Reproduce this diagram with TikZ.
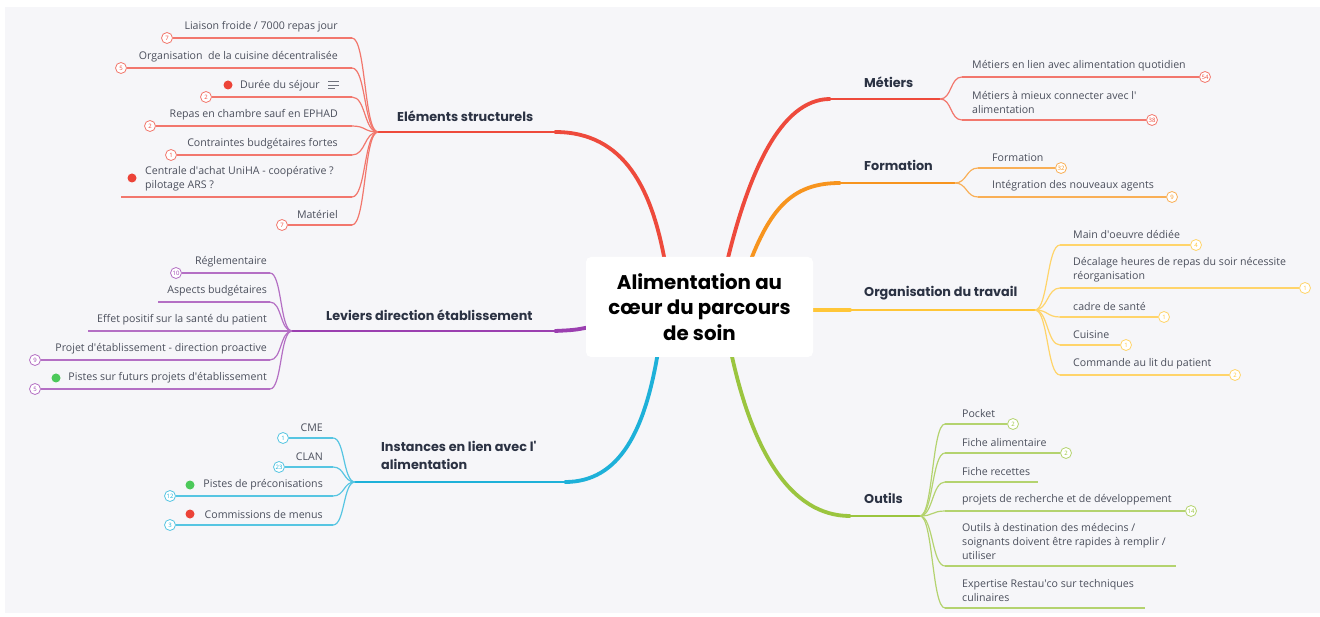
\documentclass[tikz,border=0pt]{standalone}
\usepackage{fontspec}
\setmainfont{Open Sans}
\newfontfamily\titlefont{Poppins}
\usetikzlibrary{positioning}

\definecolor{bggray}{HTML}{F6F6F9}
\definecolor{leafgray}{HTML}{4B4F5C}
\definecolor{titleink}{HTML}{2B3243}
\definecolor{cred}{HTML}{EE4A3C}
\definecolor{corange}{HTML}{F7941E}
\definecolor{cyellow}{HTML}{FFC638}
\definecolor{cgreen}{HTML}{9BC53F}
\definecolor{ccyan}{HTML}{1EB1D9}
\definecolor{cpurple}{HTML}{9B3FB0}
\definecolor{dotred}{HTML}{EC4338}
\definecolor{dotgreen}{HTML}{4CC95A}

\newcommand{\apos}{\textquotesingle}

\tikzset{
  leaf/.style={font=\fontsize{10.6}{14}\selectfont, text=leafgray, inner sep=0pt},
  topic/.style={font=\titlefont\bfseries\fontsize{12.8}{18}\selectfont, text=titleink, inner sep=0pt, align=left},
  badge/.style={circle, draw=#1!75!white, fill=white, line width=0.8pt, minimum size=11pt, inner sep=0pt,
    text=#1, font=\fontsize{6}{6}\selectfont},
  flag/.style={circle, fill=#1, minimum size=9pt, inner sep=0pt},
  trunk/.style={draw=#1, line width=3.8pt, line cap=round},
  stem/.style={draw=#1, line width=1.8pt},
  twig/.style={draw=#1!75!white, line width=1.2pt},
}

\begin{document}
\begin{tikzpicture}[x=1pt,y=-1pt]
\useasboundingbox (0,0) rectangle (1320,617);
\fill[white] (0,0) rectangle (1320,617);
\fill[bggray] (5,7) rectangle (1320,613);

% hubs and trunk ends
\coordinate (es-hub) at (378,132);
\coordinate (lv-hub) at (292,331);
\coordinate (in-hub) at (355,482);
\coordinate (mt-hub) at (940,99);
\coordinate (fo-hub) at (955,183);
\coordinate (ot-hub) at (1035,310);
\coordinate (ou-hub) at (920,516);

\coordinate (es-root) at (665,262);
\coordinate (lv-root) at (590,327);
\coordinate (in-root) at (658,352);
\coordinate (mt-root) at (727,262);
\coordinate (fo-root) at (750,262);
\coordinate (ot-root) at (808,310);
\coordinate (ou-root) at (731,352);

\coordinate (es-end) at (555,132);
\coordinate (lv-end) at (555,331);
\coordinate (in-end) at (565,482);
\coordinate (mt-end) at (830,99);
\coordinate (fo-end) at (840,183);
\coordinate (ot-end) at (850,310);
\coordinate (ou-end) at (850,516);

% main branches
\draw[trunk=cred] (es-root) .. controls (652,190) and (625,132) .. (es-end);
\draw[stem=cred] (es-end) -- (es-hub);
\draw[trunk=cpurple] (lv-root) .. controls (575,330) .. (lv-end);
\draw[stem=cpurple] (lv-end) -- (lv-hub);
\draw[trunk=ccyan] (in-root) .. controls (645,430) and (620,482) .. (in-end);
\draw[stem=ccyan] (in-end) -- (in-hub);
\draw[trunk=cred] (mt-root) .. controls (748,175) and (780,99) .. (mt-end);
\draw[stem=cred] (mt-end) -- (mt-hub);
\draw[trunk=corange] (fo-root) .. controls (772,205) and (795,183) .. (fo-end);
\draw[stem=corange] (fo-end) -- (fo-hub);
\draw[trunk=cyellow] (ot-root) -- (ot-end);
\draw[stem=cyellow] (ot-end) -- (ot-hub);
\draw[trunk=cgreen] (ou-root) .. controls (752,450) and (790,516) .. (ou-end);
\draw[stem=cgreen] (ou-end) -- (ou-hub);

% central topic
\node[fill=white, rounded corners=5pt, minimum width=227pt, minimum height=100pt, align=center,
  font=\titlefont\bfseries\fontsize{19.8}{25.5}\selectfont, text=black] (root) at (699.5,307)
  {Alimentation au\\cœur du parcours\\de soin};

% topics
\node[topic, anchor=west] (es) at (397,116) {Eléments structurels};
\node[topic, anchor=west] (lv) at (326,315) {Leviers direction établissement};
\node[topic, anchor=north west] (in) at (381,441) {Instances en lien avec l\apos\\alimentation};
\node[topic, anchor=west] (mt) at (864,82) {Métiers};
\node[topic, anchor=west] (fo) at (864,165) {Formation};
\node[topic, anchor=west] (ot) at (864,293) {Organisation du travail};
\node[topic, anchor=west] (ou) at (864,498) {Outils};

% Eléments structurels
\coordinate (es1k) at (352,38);
\coordinate (es2k) at (352,68);
\coordinate (es3k) at (352,97);
\coordinate (es4k) at (352,126);
\coordinate (es5k) at (352,155);
\coordinate (es6k) at (352,197);
\coordinate (es7k) at (352,225);
\coordinate (es6e) at (121,197);
\draw[twig=cred] (es-hub) .. controls +(-14,0) and +(14,0) .. (es1k);
\draw[twig=cred] (es-hub) .. controls +(-14,0) and +(14,0) .. (es2k);
\draw[twig=cred] (es-hub) .. controls +(-14,0) and +(14,0) .. (es3k);
\draw[twig=cred] (es-hub) .. controls +(-14,0) and +(14,0) .. (es4k);
\draw[twig=cred] (es-hub) .. controls +(-14,0) and +(14,0) .. (es5k);
\draw[twig=cred] (es-hub) .. controls +(-14,0) and +(14,0) .. (es6k);
\draw[twig=cred] (es-hub) .. controls +(-14,0) and +(14,0) .. (es7k);
\node[badge=cred] (es1b) at (167,38) {7};
\node[badge=cred] (es2b) at (121,68) {5};
\node[badge=cred] (es3b) at (206,97) {2};
\node[badge=cred] (es4b) at (150,126) {2};
\node[badge=cred] (es5b) at (171,155) {1};
\node[badge=cred] (es7b) at (282,225) {7};
\draw[twig=cred] (es1k) -- (es1b);
\draw[twig=cred] (es2k) -- (es2b);
\draw[twig=cred] (es3k) -- (es3b);
\draw[twig=cred] (es4k) -- (es4b);
\draw[twig=cred] (es5k) -- (es5b);
\draw[twig=cred] (es6k) -- (es6e);
\draw[twig=cred] (es7k) -- (es7b);
\node[leaf, anchor=south east] (es1) at (338,32) {Liaison froide / 7000 repas jour};
\node[leaf, anchor=south east] (es2) at (338,62) {Organisation\ \ de la cuisine décentralisée};
\node[leaf, anchor=south east] (es3) at (320,91) {Durée du séjour};
\node[flag=dotred] (es3f) at (228,85) {};
\draw[leafgray!80, line width=0.8pt] (328,81.5) -- (339,81.5) (328,85) -- (339,85) (328,88.5) -- (335,88.5);
\node[leaf, anchor=south east] (es4) at (338,120) {Repas en chambre sauf en EPHAD};
\node[leaf, anchor=south east] (es5) at (338,149) {Contraintes budgétaires fortes};
\node[leaf, anchor=south west, align=left] (es6) at (145,191) {Centrale d\apos achat UniHA - coopérative ?\\pilotage ARS ?};
\node[flag=dotred] (es6f) at (132,178) {};
\node[leaf, anchor=south east] (es7) at (338,219) {Matériel};

% Leviers direction établissement
\coordinate (lv1k) at (270,273);
\coordinate (lv2k) at (270,302);
\coordinate (lv3k) at (270,331);
\coordinate (lv4k) at (270,360);
\coordinate (lv5k) at (270,389);
\coordinate (lv2e) at (158,302);
\coordinate (lv3e) at (88,331);
\draw[twig=cpurple] (lv-hub) .. controls +(-12,0) and +(12,0) .. (lv1k);
\draw[twig=cpurple] (lv-hub) .. controls +(-12,0) and +(12,0) .. (lv2k);
\draw[twig=cpurple] (lv-hub) -- (lv3k);
\draw[twig=cpurple] (lv-hub) .. controls +(-12,0) and +(12,0) .. (lv4k);
\draw[twig=cpurple] (lv-hub) .. controls +(-12,0) and +(12,0) .. (lv5k);
\node[badge=cpurple] (lv1b) at (176,273) {10};
\node[badge=cpurple] (lv4b) at (35,360) {9};
\node[badge=cpurple] (lv5b) at (35,389) {5};
\draw[twig=cpurple] (lv1k) -- (lv1b);
\draw[twig=cpurple] (lv2k) -- (lv2e);
\draw[twig=cpurple] (lv3k) -- (lv3e);
\draw[twig=cpurple] (lv4k) -- (lv4b);
\draw[twig=cpurple] (lv5k) -- (lv5b);
\node[leaf, anchor=south east] (lv1) at (267,267) {Réglementaire};
\node[leaf, anchor=south east] (lv2) at (267,296) {Aspects budgétaires};
\node[leaf, anchor=south east] (lv3) at (267,325) {Effet positif sur la santé du patient};
\node[leaf, anchor=south east] (lv4) at (267,354) {Projet d\apos établissement - direction proactive};
\node[leaf, anchor=south east] (lv5) at (267,383) {Pistes sur futurs projets d\apos établissement};
\node[flag=dotgreen] (lv5f) at (56,378) {};

% Instances en lien avec l'alimentation
\coordinate (in1k) at (333,438);
\coordinate (in2k) at (333,467);
\coordinate (in3k) at (333,496);
\coordinate (in4k) at (333,525);
\draw[twig=ccyan] (in-hub) .. controls +(-12,0) and +(12,0) .. (in1k);
\draw[twig=ccyan] (in-hub) .. controls +(-12,0) and +(12,0) .. (in2k);
\draw[twig=ccyan] (in-hub) .. controls +(-12,0) and +(12,0) .. (in3k);
\draw[twig=ccyan] (in-hub) .. controls +(-12,0) and +(12,0) .. (in4k);
\node[badge=ccyan] (in1b) at (283,438) {1};
\node[badge=ccyan] (in2b) at (279,467) {23};
\node[badge=ccyan] (in3b) at (170,496) {12};
\node[badge=ccyan] (in4b) at (170,525) {3};
\draw[twig=ccyan] (in1k) -- (in1b);
\draw[twig=ccyan] (in2k) -- (in2b);
\draw[twig=ccyan] (in3k) -- (in3b);
\draw[twig=ccyan] (in4k) -- (in4b);
\node[leaf, anchor=south east] (in1) at (323,432) {CME};
\node[leaf, anchor=south east] (in2) at (323,461) {CLAN};
\node[leaf, anchor=south east] (in3) at (323,490) {Pistes de préconisations};
\node[flag=dotgreen] (in3f) at (190,485) {};
\node[leaf, anchor=south east] (in4) at (323,519) {Commissions de menus};
\node[flag=dotred] (in4f) at (190,514) {};

% Metiers
\coordinate (mt1k) at (962,77);
\coordinate (mt2k) at (962,120);
\draw[twig=cred] (mt-hub) .. controls +(12,0) and +(-12,0) .. (mt1k);
\draw[twig=cred] (mt-hub) .. controls +(12,0) and +(-12,0) .. (mt2k);
\node[badge=cred] (mt1b) at (1205,77) {54};
\node[badge=cred] (mt2b) at (1152,120) {38};
\draw[twig=cred] (mt1k) -- (mt1b);
\draw[twig=cred] (mt2k) -- (mt2b);
\node[leaf, anchor=south west] (mt1) at (972,71) {Métiers en lien avec alimentation quotidien};
\node[leaf, anchor=south west, align=left] (mt2) at (972,114) {Métiers à mieux connecter avec l\apos\\alimentation};

% Formation
\coordinate (fo1k) at (978,168);
\coordinate (fo2k) at (978,197);
\draw[twig=corange] (fo-hub) .. controls +(12,0) and +(-12,0) .. (fo1k);
\draw[twig=corange] (fo-hub) .. controls +(12,0) and +(-12,0) .. (fo2k);
\node[badge=corange] (fo1b) at (1061,168) {32};
\node[badge=corange] (fo2b) at (1172,197) {9};
\draw[twig=corange] (fo1k) -- (fo1b);
\draw[twig=corange] (fo2k) -- (fo2b);
\node[leaf, anchor=south west] (fo1) at (992,162) {Formation};
\node[leaf, anchor=south west] (fo2) at (992,191) {Intégration des nouveaux agents};

% Organisation du travail
\coordinate (ot1k) at (1060,245);
\coordinate (ot2k) at (1060,288);
\coordinate (ot3k) at (1060,317);
\coordinate (ot4k) at (1060,345);
\coordinate (ot5k) at (1060,375);
\draw[twig=cyellow] (ot-hub) .. controls +(13,0) and +(-13,0) .. (ot1k);
\draw[twig=cyellow] (ot-hub) .. controls +(13,0) and +(-13,0) .. (ot2k);
\draw[twig=cyellow] (ot-hub) .. controls +(13,0) and +(-13,0) .. (ot3k);
\draw[twig=cyellow] (ot-hub) .. controls +(13,0) and +(-13,0) .. (ot4k);
\draw[twig=cyellow] (ot-hub) .. controls +(13,0) and +(-13,0) .. (ot5k);
\node[badge=cyellow] (ot1b) at (1196,245) {4};
\node[badge=cyellow] (ot2b) at (1305,288) {1};
\node[badge=cyellow] (ot3b) at (1164,317) {1};
\node[badge=cyellow] (ot4b) at (1126,345) {1};
\node[badge=cyellow] (ot5b) at (1235,375) {2};
\draw[twig=cyellow] (ot1k) -- (ot1b);
\draw[twig=cyellow] (ot2k) -- (ot2b);
\draw[twig=cyellow] (ot3k) -- (ot3b);
\draw[twig=cyellow] (ot4k) -- (ot4b);
\draw[twig=cyellow] (ot5k) -- (ot5b);
\node[leaf, anchor=south west] (ot1) at (1073,239) {Main d\apos oeuvre dédiée};
\node[leaf, anchor=south west, align=left] (ot2) at (1073,282) {Décalage heures de repas du soir nécessite\\réorganisation};
\node[leaf, anchor=south west] (ot3) at (1073,311) {cadre de santé};
\node[leaf, anchor=south west] (ot4) at (1073,339) {Cuisine};
\node[leaf, anchor=south west] (ot5) at (1073,369) {Commande au lit du patient};

% Outils
\coordinate (ou1k) at (945,424);
\coordinate (ou2k) at (945,453);
\coordinate (ou3k) at (945,482);
\coordinate (ou4k) at (945,511);
\coordinate (ou5k) at (945,566);
\coordinate (ou6k) at (945,608);
\coordinate (ou3e) at (1038,482);
\coordinate (ou5e) at (1176,566);
\coordinate (ou6e) at (1145,608);
\draw[twig=cgreen] (ou-hub) .. controls +(13,0) and +(-13,0) .. (ou1k);
\draw[twig=cgreen] (ou-hub) .. controls +(13,0) and +(-13,0) .. (ou2k);
\draw[twig=cgreen] (ou-hub) .. controls +(13,0) and +(-13,0) .. (ou3k);
\draw[twig=cgreen] (ou-hub) .. controls +(13,0) and +(-13,0) .. (ou4k);
\draw[twig=cgreen] (ou-hub) .. controls +(13,0) and +(-13,0) .. (ou5k);
\draw[twig=cgreen] (ou-hub) .. controls +(13,0) and +(-13,0) .. (ou6k);
\node[badge=cgreen] (ou1b) at (1013,424) {2};
\node[badge=cgreen] (ou2b) at (1066,453) {2};
\node[badge=cgreen] (ou4b) at (1191,511) {14};
\draw[twig=cgreen] (ou1k) -- (ou1b);
\draw[twig=cgreen] (ou2k) -- (ou2b);
\draw[twig=cgreen] (ou3k) -- (ou3e);
\draw[twig=cgreen] (ou4k) -- (ou4b);
\draw[twig=cgreen] (ou5k) -- (ou5e);
\draw[twig=cgreen] (ou6k) -- (ou6e);
\node[leaf, anchor=south west] (ou1) at (962,418) {Pocket};
\node[leaf, anchor=south west] (ou2) at (962,447) {Fiche alimentaire};
\node[leaf, anchor=south west] (ou3) at (962,476) {Fiche recettes};
\node[leaf, anchor=south west] (ou4) at (962,505) {projets de recherche et de développement};
\node[leaf, anchor=south west, align=left] (ou5) at (962,560) {Outils à destination des médecins /\\soignants doivent être rapides à remplir /\\utiliser};
\node[leaf, anchor=south west, align=left] (ou6) at (962,602) {Expertise Restau\apos co sur techniques\\culinaires};
\end{tikzpicture}
\end{document}
